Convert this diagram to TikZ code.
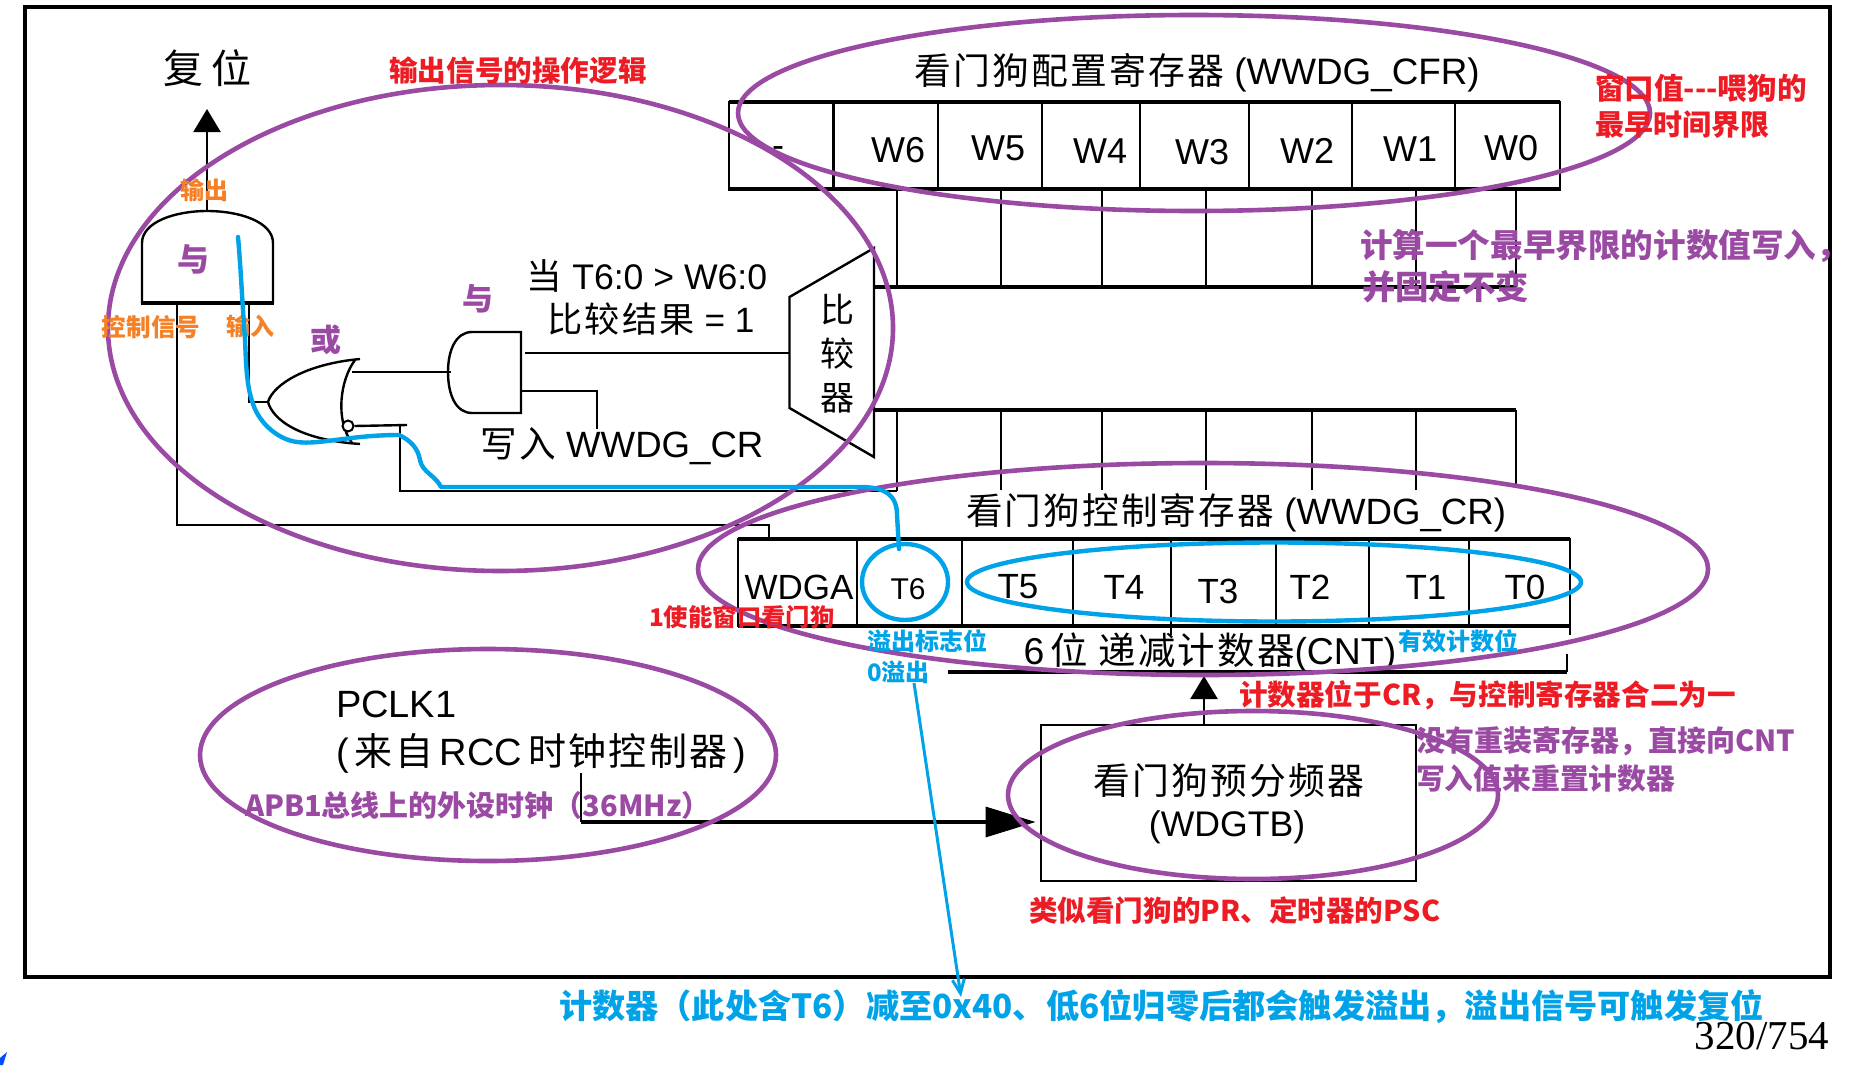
\documentclass[tikz,border=0pt]{standalone}
\usepackage{fontspec}
\usetikzlibrary{arrows.meta}
\setmainfont{Liberation Sans}
\newfontfamily\cjk[LetterSpace=6]{Noto Sans CJK SC}
\newfontfamily\cjkb{Noto Sans CJK SC}
\newcommand{\zh}[1]{{\cjk #1}}
\newcommand{\sz}[1]{\fontsize{#1}{#1}\selectfont}
\definecolor{pur}{HTML}{9B4AA3}
\definecolor{org}{HTML}{F58025}
\definecolor{rd}{HTML}{ED1C24}
\definecolor{cy}{HTML}{00A3E8}
\tikzset{
  wire/.style={black,line width=1.2pt},
  thick wire/.style={black,line width=1.6pt},
  ring/.style={pur,line width=2.3pt},
  cring/.style={cy,line width=2.2pt},
  txt/.style={inner sep=0pt,outer sep=0pt,text=black},
  ann/.style={inner sep=0pt,outer sep=0pt,font=\cjkb\bfseries},
  bigarrow/.style={-{Triangle[length=11.5pt,width=13.5pt]},wire},
  hugearrow/.style={-{Triangle[length=25pt,width=15pt]},thick wire},
}
\begin{document}
\begin{tikzpicture}[x=0.5pt,y=-0.5pt,line join=miter]
\useasboundingbox (0,0) rectangle (1850,1065);
\fill[white] (0,0) rectangle (1850,1065);
% outer frame
\draw[thick wire] (25,7) rectangle (1830,977);
% corner mark
\fill[blue!70!cyan] (0,1058) -- (7,1052) -- (3,1065) -- (0,1065) -- cycle;

% ---- gates
\draw[wire] (142,303) -- (142,243) .. controls (142,222) and (175,211) .. (207,211) .. controls (240,211) and (273,222) .. (273,243) -- (273,303);
\draw[thick wire] (141,303) -- (274,303);
\draw[wire] (521,332) -- (472,332) .. controls (456,332) and (448,350) .. (448,372) .. controls (448,395) and (456,413) .. (472,413) -- (521,413) -- cycle;
\draw[wire] (360,359) .. controls (305,364) and (273,385) .. (268,402) .. controls (273,420) and (300,440) .. (360,444);
\draw[wire] (355,360) .. controls (340,380) and (335,420) .. (352,443);
\node[draw=black,fill=white,line width=1pt,circle,minimum size=5.5pt,inner sep=0pt] (bub) at (348,426) {};

% ports
\coordinate (andOut) at (207,211);
\coordinate (resetTip) at (207,109);
\coordinate (andA) at (177,303);
\coordinate (andB) at (249,303);
\coordinate (orIn) at (268,402);
\coordinate (orBend) at (249,402);
\coordinate (orOut) at (352,372);
\coordinate (and2In) at (451,372);
\coordinate (and2A) at (525,353);
\coordinate (cmpL) at (789,353);
\coordinate (and2B) at (521,391);
\coordinate (wrC) at (597,391);
\coordinate (wrD) at (597,429);
\coordinate (t6a) at (407,425);
\coordinate (t6b) at (400,425);
\coordinate (t6c) at (400,491);
\coordinate (t6d) at (897,491);
\coordinate (wdA) at (177,525);
\coordinate (wdB) at (769,525);
\coordinate (wdC) at (769,539);

\draw[bigarrow] (andOut) -- (resetTip);
\draw[wire] (andA) -- (wdA) -- (wdB) -- (wdC);
\draw[wire] (andB) -- (orBend) -- (orIn);
\draw[wire] (orOut) -- (and2In);
\draw[wire] (and2A) -- (cmpL);
\draw[wire] (and2B) -- (wrC) -- (wrD);
\draw[wire] (bub.east) -- (t6a);
\draw[wire] (t6b) -- (t6c) -- (t6d);

% ---- comparator
\draw[wire] (874,248) -- (789.5,297) -- (789.5,408) -- (874,457) -- cycle;
\node[txt,font=\cjkb\sz{17}] (cmp1) at (837,310) {比};
\node[txt,font=\cjkb\sz{17}] (cmp2) at (837,354) {较};
\node[txt,font=\cjkb\sz{17}] (cmp3) at (837,398) {器};

% ---- CFR register
\draw[wire] (729,102) rectangle (1560,189);
\draw[thick wire] (729,102) -- (1560,102) (728,189) -- (1561,189);
\foreach \x in {833.5,938,1042,1140,1249,1352,1455} \draw[wire] (\x,102) -- (\x,189);
\foreach \n/\x/\y/\t in {m/778/152/-,w6/898/150/W6,w5/998/148/W5,w4/1100/151/W4,w3/1202/152/W3,w2/1307/151/W2,w1/1410/149/W1,w0/1511/148/W0}
  \node[txt,font=\sz{18}] (\n) at (\x,\y) {\t};

% ---- bus lines
\coordinate (busUL) at (874,287); \coordinate (busUR) at (1516,287);
\coordinate (busLL) at (874,410); \coordinate (busLR) at (1516,410);
\draw[thick wire] (busUL) -- (busUR);
\draw[thick wire] (busLL) -- (busLR);
\foreach \x in {897,1001,1102,1206,1312,1416,1516}
  \draw[wire] (\x,189) -- (\x,287);
\foreach \x in {1001,1102,1206,1312,1416}
  \draw[wire] (\x,410) -- (\x,490);
\draw[wire] (1516,410) -- (1516,485);
\draw[wire] (897,410) -- (t6d);

% ---- CR register
\draw[wire] (738,539) rectangle (1570,626);
\draw[thick wire] (738,539) -- (1570,539) (738,626) -- (1570,626);
\foreach \x in {857,962,1073,1171,1276,1369,1469} \draw[wire] (\x,539) -- (\x,626);
\draw[wire] (1171,626) -- (1171,635);
\draw[wire] (1570,626) -- (1570,635);
\node[txt,font=\sz{17.5}] (wdga) at (799,587) {WDGA};
\node[txt,font=\sz{15}] (t6) at (908,589) {T6};
\foreach \n/\x/\y/\t in {t5/1018/587/T5,t4/1124/587/T4,t3/1218/591/T3,t2/1310/587/T2,t1/1426/587/T1,t0/1525/587/T0}
  \node[txt,font=\sz{17.5}] (\n) at (\x,\y) {\t};

% ---- CNT line
\coordinate (cntL) at (948,672); \coordinate (cntR) at (1567,672); \coordinate (cntUp) at (1567,654);
\draw[thick wire] (cntL) -- (cntR);
\draw[wire] (cntR) -- (cntUp);

% ---- prescaler
\node[draw=black,line width=1.4pt,minimum width=187.5pt,minimum height=78pt,inner sep=0pt] (psc) at (1228.5,803) {};
\coordinate (cntIn) at (1204,676);
\coordinate (pclkT) at (581,773);
\coordinate (pclkB) at (581,822);
\draw[bigarrow] (psc.north -| cntIn) -- (cntIn);
\draw[wire] (pclkT) -- (pclkB);
\draw[hugearrow,shorten >=2pt] (pclkB) -- (psc.west |- pclkB);

% ---- black texts
\node[txt,font=\cjkb\sz{20}] (reset) at (207,68) {复\hspace{4pt}位};
\node[txt,font=\sz{17.8}] (cond1) at (647,276) {\zh{当} T6:0 > W6:0};
\node[txt,font=\sz{17.6}] (cond2) at (651,319) {\zh{比较结果} = 1};
\node[txt,font=\sz{18.3}] (wr) at (622,446) {\zh{写入} WWDG\_CR};
\node[txt,font=\sz{18.4}] (cfrT) at (1197,73) {\zh{看门狗配置寄存器} (WWDG\_CFR)};
\node[txt,font=\sz{18.3}] (crT) at (1236,513) {\zh{看门狗控制寄存器} (WWDG\_CR)};
\node[txt,font=\sz{18.7}] (cntT) at (1210,653) {6\,\zh{位} \zh{递减计数器}(CNT)};
\node[txt,font=\sz{18.4}] (pre1) at (1229,781) {\zh{看门狗预分频器}};
\node[txt,font=\sz{17.8}] (pre2) at (1227,827) {(WDGTB)};
\node[txt,font=\sz{19},anchor=west] (pclk) at (336,704) {PCLK1};
\node[txt,font=\sz{19},anchor=west] (rcc) at (336,753) {(\,\zh{来自}\,RCC\,\zh{时钟控制器}\,)};
\node[txt,font=\fontspec{Liberation Serif}\sz{20.5},anchor=east] (page) at (1829,1036) {320/754};

% ---- purple rings
\draw[ring] (500.5,328) ellipse [x radius=392.5,y radius=243];
\draw[ring] (1194,113) ellipse [x radius=456,y radius=98];
\draw[ring] (1203,569) ellipse [x radius=505,y radius=106];
\draw[ring] (488,755) ellipse [x radius=288,y radius=106];
\draw[ring] (1253,795) ellipse [x radius=245,y radius=84];

% ---- annotations
\node[ann,text=rd,font=\cjkb\bfseries\sz{14.3}] (a1) at (518,71) {输出信号的操作逻辑};
\node[ann,text=rd,font=\cjkb\bfseries\sz{14.8},anchor=west] (a2) at (1595,88) {窗口值---喂狗的};
\node[ann,text=rd,font=\cjkb\bfseries\sz{14.5},anchor=west] (a3) at (1595,125) {最早时间界限};
\node[ann,text=pur,font=\cjkb\bfseries\sz{16.3},anchor=west] (a4) at (1360,246) {计算一个最早界限的计数值写入，};
\node[ann,text=pur,font=\cjkb\bfseries\sz{16.7},anchor=west] (a5) at (1362,287) {并固定不变};
\node[ann,text=pur,font=\cjkb\bfseries\sz{16}] (y1) at (193,259) {与};
\node[ann,text=pur,font=\cjkb\bfseries\sz{15.5}] (y2) at (478,299) {与};
\node[ann,text=pur,font=\cjkb\bfseries\sz{15.5}] (h1) at (326,340) {或};
\node[ann,text=org,font=\cjkb\bfseries\sz{12}] (o1) at (204,190) {输出};
\node[ann,text=org,font=\cjkb\bfseries\sz{12.3}] (o2) at (151,327) {控制信号};
\node[ann,text=org,font=\cjkb\bfseries\sz{12}] (o3) at (250,326) {输入};
\node[ann,text=rd,font=\cjkb\bfseries\sz{12.2},anchor=west] (a6) at (649,617) {1使能窗口看门狗};
\node[ann,text=cy,font=\cjkb\bfseries\sz{12},anchor=west] (a7) at (867,641) {溢出标志位};
\node[ann,text=cy,font=\cjkb\bfseries\sz{12},anchor=west] (a8) at (867,672) {0溢出};
\node[ann,text=cy,font=\cjkb\bfseries\sz{12},anchor=west] (a9) at (1398,641) {有效计数位};
\node[ann,text=rd,font=\cjkb\bfseries\sz{14.3},anchor=west] (a10) at (1239,695) {计数器位于CR，与控制寄存器合二为一};
\node[ann,text=pur,font=\cjkb\bfseries\sz{14.5},anchor=west] (a11) at (1416,741) {没有重装寄存器，直接向CNT};
\node[ann,text=pur,font=\cjkb\bfseries\sz{14.4},anchor=west] (a12) at (1416,779) {写入值来重置计数器};
\node[ann,text=rd,font=\cjkb\bfseries\sz{14.3},anchor=west] (a13) at (1029,910) {类似看门狗的PR、定时器的PSC};
\node[ann,text=pur,font=\cjkb\bfseries\sz{14.5},anchor=west] (a14) at (245,805) {APB1总线上的外设时钟（36MHz）};
\node[ann,text=cy,font=\cjkb\bfseries\sz{16.6},anchor=west] (a15) at (559,1007) {计数器（此处含T6）减至0x40、低6位归零后都会触发溢出，溢出信号可触发复位};

% ---- cyan marks
\draw[cring] (1274,582) ellipse [x radius=307,y radius=39.5];
\draw[cring] (905,582) ellipse [x radius=43,y radius=38];
\coordinate (t6top) at (899,549);
\draw[cring,line cap=round,line join=round] (238,237) .. controls (241,270) and (242,300) .. (245,339)
  .. controls (246,360) and (246,385) .. (253,404)
  .. controls (260,425) and (280,440) .. (297,442)
  .. controls (320,445) and (350,435) .. (399,435)
  .. controls (410,440) and (418,448) .. (420,460)
  .. controls (422,472) and (436,476) .. (441,487)
  -- (860,487) .. controls (885,487) and (897,495) .. (897,515) -- (t6top);
\coordinate (ovfA) at (914,683);
\coordinate (ovfB) at (961,997);
\draw[cy,line width=1.5pt,-{Straight Barb[length=7pt,width=6pt]}] (ovfA) -- (ovfB);
\end{tikzpicture}
\end{document}
